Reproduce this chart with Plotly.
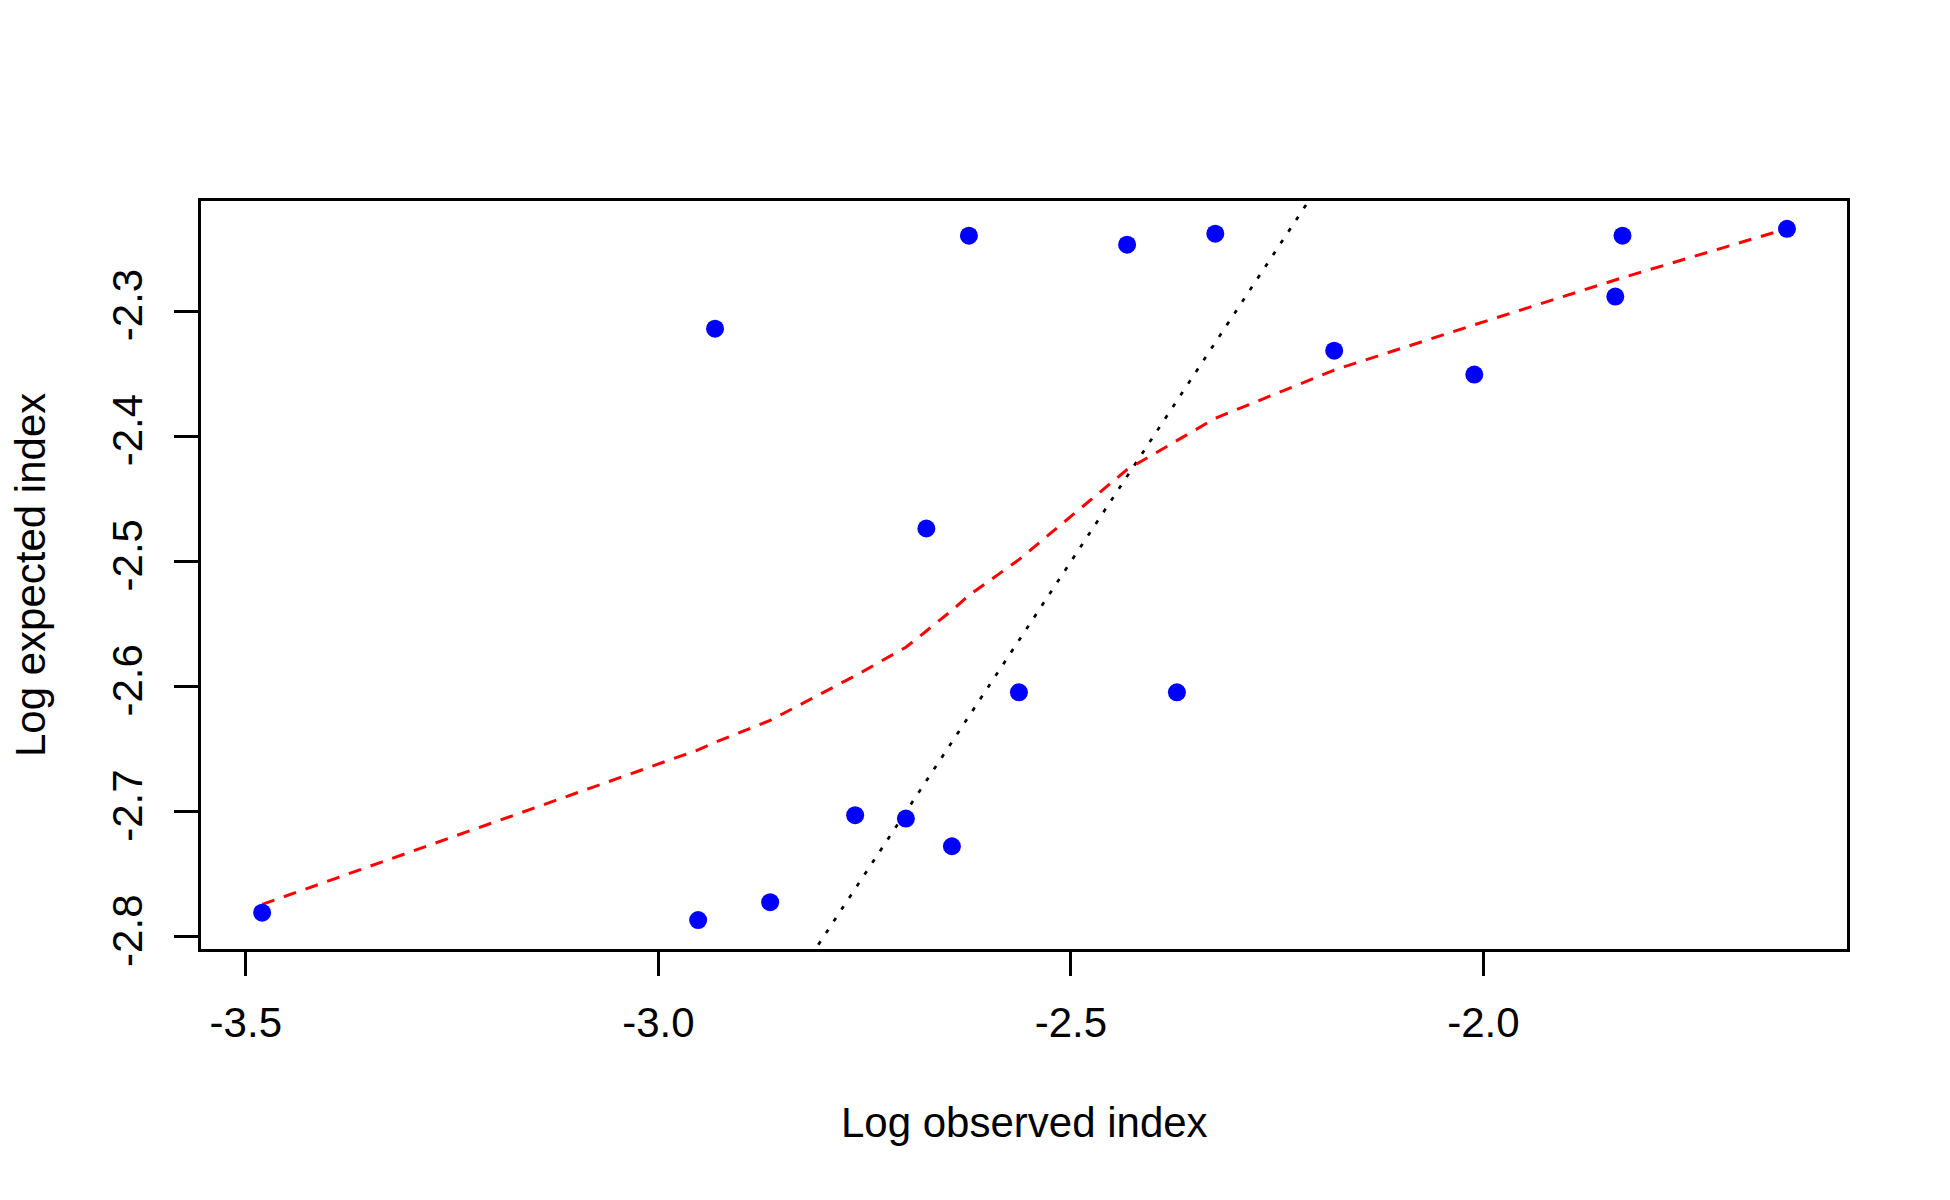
import plotly.graph_objects as go

# observed vs expected (log scale)
log_observed = [-3.4802, -2.9518, -2.9313, -2.8645, -2.7615, -2.7000, -2.6752, -2.6442, -2.6236,
                -2.5630, -2.4319, -2.3715, -2.3250, -2.1809, -2.0111, -1.8402, -1.8315, -1.6321]
log_expected = [-2.7806, -2.7865, -2.3139, -2.7722, -2.7027, -2.7054, -2.4736, -2.7275, -2.2396,
                -2.6045, -2.2468, -2.6045, -2.2380, -2.3315, -2.3506, -2.2883, -2.2396, -2.2341]

# smoothed fit (red dashed), one value per observed x
smooth_fit = [-2.7740, -2.6505, -2.6445, -2.6269, -2.5913, -2.5685, -2.5555, -2.5390, -2.5270,
              -2.4985, -2.4265, -2.4032, -2.3855, -2.3470, -2.3108, -2.2750, -2.2732, -2.2340]

# 1:1 reference line
ref_line = [-3.6, -1.5]

x_ticks = [-3.5, -3.0, -2.5, -2.0]
x_labels = ["-3.5", "-3.0", "-2.5", "-2.0"]
y_ticks = [-2.8, -2.7, -2.6, -2.5, -2.4, -2.3]
y_labels = ["-2.8", "-2.7", "-2.6", "-2.5", "-2.4", "-2.3"]

font = "Liberation Sans, Arial, sans-serif"
fsize = 42

fig = go.Figure()
fig.add_trace(go.Scatter(x=ref_line, y=ref_line, mode="lines",
                         line=dict(color="black", width=2.7, dash="4px,10px")))
fig.add_trace(go.Scatter(x=log_observed, y=smooth_fit, mode="lines",
                         line=dict(color="#ff0000", width=3, dash="13px,10px")))
fig.add_trace(go.Scatter(x=log_observed, y=log_expected, mode="markers",
                         marker=dict(color="#0000ff", size=18, line=dict(width=0))))

axis_common = dict(showgrid=False, zeroline=False, showline=True, mirror=True,
                   linecolor="black", linewidth=2.7, ticks="outside", ticklen=24,
                   tickwidth=2.7, tickcolor="black",
                   tickfont=dict(family=font, size=fsize, color="black"))

fig.update_xaxes(range=[-3.5543, -1.5594], tickvals=x_ticks, ticktext=x_labels,
                 ticklabelstandoff=11, **axis_common)
fig.update_yaxes(range=[-2.8096, -2.2119], tickvals=y_ticks, ticktext=y_labels, tickangle=-90,
                 ticklabelstandoff=15, **axis_common)

# axis titles placed like R's mtext lines
fig.add_annotation(text="Log observed index", xref="paper", yref="paper", x=0.5, y=0,
                   xanchor="center", yanchor="middle", yshift=-173, showarrow=False,
                   font=dict(family=font, size=fsize, color="black"))
fig.add_annotation(text="Log expected index", xref="paper", yref="paper", x=0, y=0.5,
                   xanchor="center", yanchor="middle", xshift=-171, textangle=-90, showarrow=False,
                   font=dict(family=font, size=fsize, color="black"))

# page body adds 8px, so the figure is a bit smaller than the window
fig.update_layout(width=1934, height=1184, showlegend=False,
                  plot_bgcolor="white", paper_bgcolor="white",
                  margin=dict(l=193, r=95, t=193, b=243))

fig.write_html("out.html")
